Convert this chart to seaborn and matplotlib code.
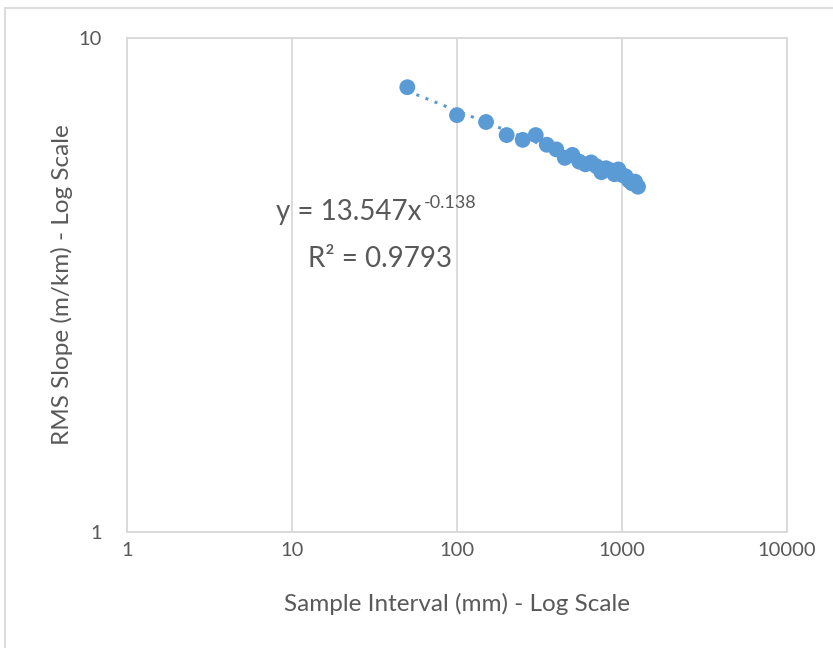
import numpy as np
import pandas as pd
import matplotlib
matplotlib.use("Agg")
import matplotlib.pyplot as plt
import seaborn as sns
from matplotlib.ticker import FixedLocator, NullLocator, FixedFormatter

# data
interval_mm = [50, 100, 150, 200, 250, 300, 350, 400, 450, 500, 550, 600, 650,
               700, 750, 800, 850, 900, 950, 1000, 1050, 1100, 1150, 1200, 1250]
rms_slope = [7.95, 6.98, 6.76, 6.36, 6.22, 6.36, 6.08, 5.95, 5.72, 5.80, 5.62,
             5.55, 5.60, 5.50, 5.35, 5.45, 5.40, 5.30, 5.42, 5.28, 5.25, 5.15,
             5.08, 5.12, 5.00]
x_ticks = [1, 10, 100, 1000, 10000]
x_labels = ['1', '10', '100', '1000', '10000']
y_ticks = [1, 10]
y_labels = ['1', '10']

df = pd.DataFrame({'interval': interval_mm, 'slope': rms_slope})

sns.set_style('white')
plt.rcParams['font.family'] = ['Lato', 'DejaVu Sans']

blue = '#5B9BD5'
grey_text = '#595959'
grid_col = '#D9D9D9'

W, H = 833, 648
fig = plt.figure(figsize=(W / 100, H / 100), dpi=100)
ax = fig.add_axes([127/W, 1 - 532/H, (787 - 127)/W, (532 - 38)/H])

# power trendline fitted in log space
coef = np.polyfit(np.log(df['interval']), np.log(df['slope']), 1)
xt = np.linspace(df['interval'].min(), df['interval'].max(), 100)
ax.plot(xt, np.exp(coef[1]) * xt ** coef[0], color=blue, lw=2.2,
        linestyle=(0, (1, 2.2)), zorder=2)

sns.scatterplot(data=df, x='interval', y='slope', ax=ax, color=blue, s=130,
                edgecolor='none', zorder=3)

ax.set_xscale('log')
ax.set_yscale('log')
ax.set_xlim(1, 10000)
ax.set_ylim(1, 10)
ax.xaxis.set_major_locator(FixedLocator(x_ticks))
ax.xaxis.set_major_formatter(FixedFormatter(x_labels))
ax.yaxis.set_major_locator(FixedLocator(y_ticks))
ax.yaxis.set_major_formatter(FixedFormatter(y_labels))
ax.xaxis.set_minor_locator(NullLocator())
ax.yaxis.set_minor_locator(NullLocator())

ax.grid(True, which='major', color=grid_col, lw=1.3)
for s in ax.spines.values():
    s.set_color(grid_col)
    s.set_linewidth(1.3)
ax.tick_params(length=0, labelsize=14.5, colors=grey_text, pad=7)
ax.tick_params(axis='y', pad=18)

ax.set_xlabel('Sample Interval (mm) - Log Scale', fontsize=17.5,
              color=grey_text)
ax.set_ylabel('RMS Slope (m/km) - Log Scale', fontsize=17.5,
              color=grey_text)
ax.xaxis.set_label_coords(0.5, -(604 - 532) / (532 - 38))
ax.yaxis.set_label_coords(-(127 - 62) / (787 - 127), 0.5)
ax.xaxis.label.set_va('center')
ax.yaxis.label.set_va('center')

# trendline equation
fig.text(276/W, 1 - 220/H, 'y = 13.547x', fontsize=20, color=grey_text,
         ha='left', va='baseline')
fig.text(424/W, 1 - 208/H, '-0.138', fontsize=13, color=grey_text,
         ha='left', va='baseline')
fig.text(380/W, 1 - 267/H, 'R² = 0.9793', fontsize=20, color=grey_text,
         ha='center', va='baseline')

# outer chart border
fig.add_artist(plt.Line2D([5/W, 5/W], [0, 1 - 8/H], color=grid_col,
                          lw=1.3, transform=fig.transFigure))
fig.add_artist(plt.Line2D([5/W, 1], [1 - 8/H, 1 - 8/H], color=grid_col,
                          lw=1.3, transform=fig.transFigure))

fig.savefig('out.png', dpi=100)
